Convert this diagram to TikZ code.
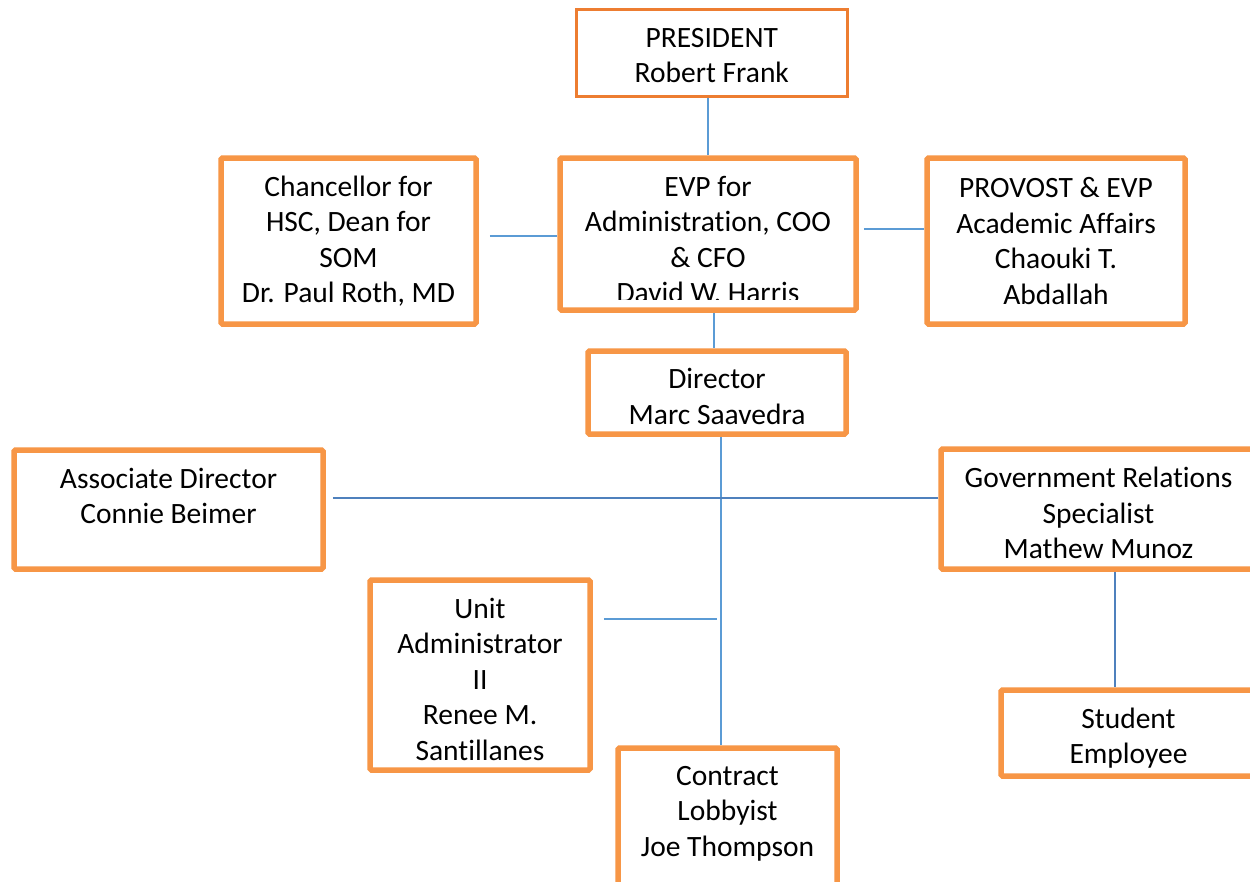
\documentclass[tikz,border=0pt]{standalone}
\usepackage{fontspec}
\setmainfont{Carlito}[Ligatures={NoCommon}]
\usetikzlibrary{calc}
\definecolor{boxorange}{HTML}{F79646}
\definecolor{topborder}{HTML}{ED7D31}
\definecolor{linkblue}{HTML}{5B9BD5}
\definecolor{linkdark}{HTML}{4F81BD}
\tikzset{
  box/.style={draw=boxorange, line width=5.5pt, rounded corners=1.5pt, fill=white,
              inner sep=0pt, align=center, font=\fontsize{29.5}{35.5}\selectfont},
  topbox/.style={box, draw=topborder, line width=2.7pt, rounded corners=0pt},
  txt/.style={inner sep=0pt, align=center, font=\fontsize{29.5}{35.5}\selectfont},
  link/.style={draw=linkblue, line width=1.4pt},
  linkd/.style={draw=linkdark, line width=1.6pt}
}
\begin{document}
\begin{tikzpicture}[x=1pt, y=-1pt]
\clip (0,0) rectangle (1250,881);
\fill[white] (0,0) rectangle (1250,881);

% boxes
\node[topbox, minimum width=271pt, minimum height=87pt] (pres) at (711.75,52.75) {};
\node[txt] (prestext) at (711.75,55.5) {PRESIDENT\\Robert Frank};
\node[box, minimum width=255pt, minimum height=166pt] (chan) at (348.5,241)
  {Chancellor for\\HSC, Dean for\\SOM\\Dr. Paul Roth, MD};
\node[box, minimum width=296pt, minimum height=152pt] (evp) at (708,234) {};
\begin{scope}
  \clip (562,161) rectangle (854,299.5);
  \node[txt] (evptext) at (708,239.5)
    {EVP for\\Administration, COO\\\& CFO\\David W. Harris};
\end{scope}
\node[box, minimum width=258pt, minimum height=166pt] (prov) at (1056,241)
  {PROVOST \& EVP\\Academic Affairs\\Chaouki T.\\Abdallah};
\node[box, minimum width=258pt, minimum height=83pt] (dir) at (717,392.5) {};
\node[txt] (dirtext) at (717,396.5) {Director\\Marc Saavedra};
\node[box, minimum width=309pt, minimum height=119pt] (assoc) at (168.5,509.5) {};
\node[txt] (assoctext) at (168.5,496) {Associate Director\\Connie Beimer};
\node[box, minimum width=315pt, minimum height=120pt] (gov) at (1098.5,509) {};
\node[txt] (govtext) at (1098.5,513) {Government Relations\\Specialist\\Mathew Munoz};
\node[box, minimum width=220pt, minimum height=190pt] (unit) at (480,675) {};
\node[txt] (unittext) at (480,679) {Unit\\Administrator\\II\\Renee M.\\Santillanes};
\node[box, minimum width=219pt, minimum height=142pt] (contract) at (727.5,819) {};
\node[txt] (contracttext) at (727.5,813.5) {Contract\\Lobbyist\\Joe Thompson};
\node[box, minimum width=255pt, minimum height=86pt] (student) at (1128.5,733) {};
\node[txt] (studenttext) at (1128.5,738) {Student\\Employee};

% connector anchor points
\coordinate (chanR)  at ([xshift=11pt,yshift=5pt]chan.east);
\coordinate (evpR)   at ([xshift=5pt,yshift=5pt]evp.east);
\coordinate (evpB)   at ([xshift=-3pt]dir.north);
\coordinate (spine)  at ([xshift=4pt]dir.south);
\coordinate (assocR) at ([xshift=7pt,yshift=11.5pt]assoc.east);
\coordinate (unitR)  at ([xshift=11pt,yshift=56pt]unit.east);
\coordinate (govB)   at ([xshift=16.5pt]gov.south);

% connectors
\draw[link] (evp.north |- pres.south) -- (evp.north);
\draw[link] (chanR) -- (chanR -| evp.west);
\draw[link] (evpR) -- (evpR -| prov.west);
\draw[link] (evpB |- evp.south) -- (evpB);
\draw[link] (spine) -- (spine |- contract.north);
\draw[linkd] (assocR) -- (assocR -| gov.west);
\draw[link] (unitR) -- ($(unitR -| spine)+(-4,0)$);
\draw[linkd] (govB) -- (govB |- student.north);
\end{tikzpicture}
\end{document}
